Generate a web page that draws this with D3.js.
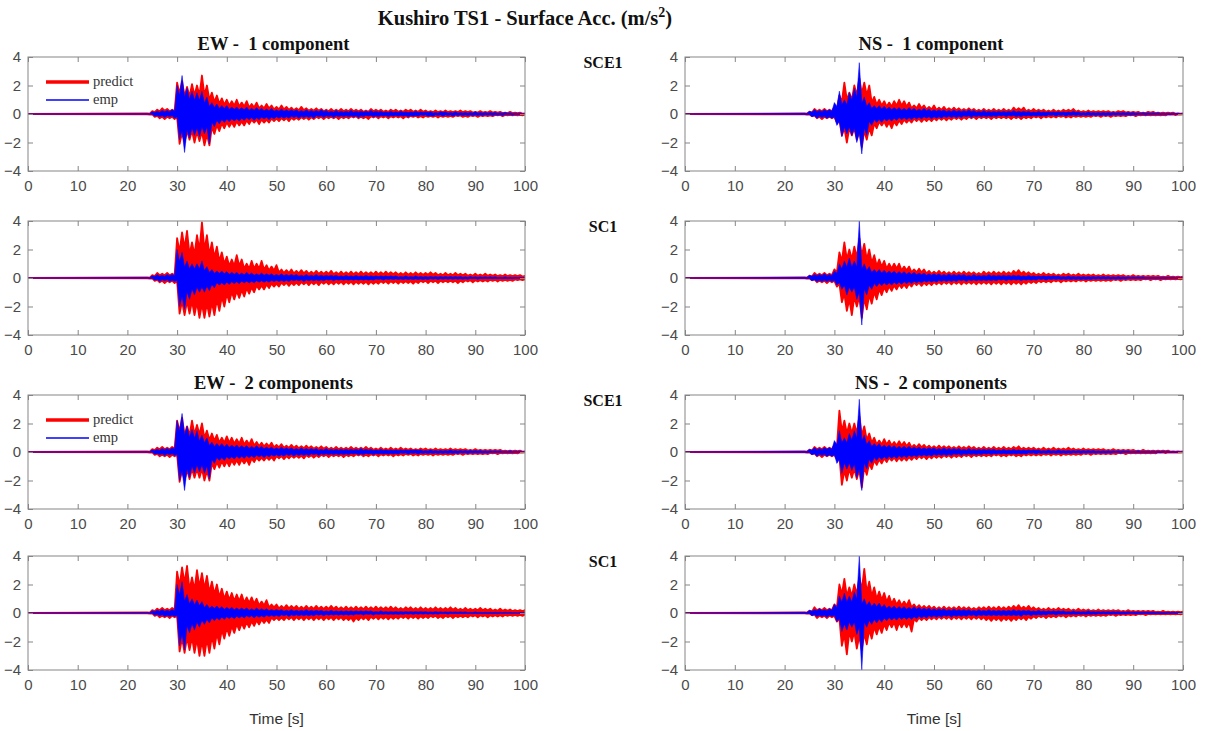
<!DOCTYPE html>
<html>
<head>
<meta charset="utf-8">
<script src="https://cdn.jsdelivr.net/npm/d3@7"></script>
<style>
  body { margin: 0; background: #fff; }
  text { white-space: pre; }
</style>
</head>
<body>
<svg id="chart" width="1207" height="731"></svg>
<script>
// ---------------- DATA ----------------
// Peak envelopes (max / min per second) of each acceleration trace, m/s^2,
// sampled at t = 24, 25, ..., 100 s. Before 24 s the traces sit at 0.
const sampleTimes = d3.range(24, 101);
const preEventTimes = [0, 24];

const xTickValues = [0, 10, 20, 30, 40, 50, 60, 70, 80, 90, 100];
const yTickValues = [-4, -2, 0, 2, 4];
const mainTitle = "Kushiro TS1 - Surface Acc. (m/s";
const mainTitleSup = "2";
const topTitles = ["EW -  1 component", "NS -  1 component"];
const midTitles = ["EW -  2 components", "NS -  2 components"];
const rowLabels = ["SCE1", "SC1", "SCE1", "SC1"];
const legendLabels = ["predict", "emp"];
const xLabel = "Time [s]";

// ---- EW, 1 component, SCE1 ----
const ew1_sce1_predMax = [0.05,0.2,0.3,0.4,0.35,0.3,2.2,2.3,1.9,2.1, 2.0,2.7,2.0,1.5,1.3,1.1,1.0,0.9,1.0,0.8, 0.9,0.7,0.8,0.6,0.7,0.6,0.5,0.6,0.5,0.45, 0.4,0.5,0.4,0.35,0.4,0.35,0.3,0.35,0.3,0.35, 0.3,0.35,0.3,0.3,0.25,0.35,0.3,0.3,0.25,0.3, 0.3,0.25,0.3,0.3,0.25,0.3,0.25,0.2,0.25,0.2, 0.25,0.2,0.2,0.25,0.2,0.2,0.15,0.2,0.15,0.2, 0.15,0.15,0.1,0.15,0.1,0.1,0.05];
const ew1_sce1_predMin = [-0.05,-0.2,-0.3,-0.35,-0.3,-0.35,-2.1,-2.0,-1.8,-2.0, -1.9,-2.2,-2.2,-1.4,-1.2,-1.0,-0.9,-0.9,-0.8,-0.8, -0.7,-0.6,-0.7,-0.6,-0.6,-0.5,-0.5,-0.45,-0.5,-0.4, -0.4,-0.35,-0.4,-0.35,-0.3,-0.35,-0.3,-0.3,-0.35,-0.3, -0.3,-0.25,-0.3,-0.3,-0.35,-0.25,-0.3,-0.25,-0.3,-0.25, -0.25,-0.3,-0.25,-0.2,-0.25,-0.25,-0.2,-0.2,-0.25,-0.2, -0.2,-0.2,-0.15,-0.2,-0.2,-0.15,-0.2,-0.15,-0.15,-0.15, -0.1,-0.15,-0.1,-0.1,-0.1,-0.1,-0.05];
const ew1_sce1_empMax = [0.02,0.15,0.2,0.25,0.25,0.3,2.0,2.7,1.8,1.6, 1.5,1.6,1.2,0.8,0.7,0.6,0.6,0.5,0.5,0.45, 0.5,0.4,0.45,0.4,0.35,0.4,0.3,0.35,0.3,0.3, 0.3,0.25,0.3,0.25,0.25,0.3,0.25,0.2,0.25,0.2, 0.2,0.25,0.2,0.2,0.2,0.25,0.2,0.2,0.15,0.2, 0.15,0.2,0.15,0.15,0.2,0.15,0.15,0.15,0.1,0.15, 0.15,0.1,0.15,0.1,0.1,0.1,0.15,0.1,0.1,0.1, 0.1,0.08,0.1,0.08,0.05,0.05,0.03];
const ew1_sce1_empMin = [-0.02,-0.15,-0.2,-0.25,-0.2,-0.3,-1.8,-2.7,-1.7,-1.5, -1.6,-1.4,-2.1,-0.9,-0.7,-0.6,-0.55,-0.5,-0.5,-0.45, -0.4,-0.45,-0.4,-0.35,-0.4,-0.35,-0.3,-0.3,-0.3,-0.25, -0.3,-0.25,-0.25,-0.3,-0.2,-0.25,-0.2,-0.25,-0.2,-0.2, -0.2,-0.2,-0.25,-0.2,-0.15,-0.2,-0.2,-0.15,-0.2,-0.15, -0.15,-0.15,-0.2,-0.15,-0.15,-0.1,-0.15,-0.15,-0.1,-0.15, -0.1,-0.15,-0.1,-0.1,-0.1,-0.1,-0.1,-0.1,-0.08,-0.1, -0.08,-0.1,-0.05,-0.08,-0.05,-0.05,-0.03];

// ---- NS, 1 component, SCE1 ----
const ns1_sce1_predMax = [0.05,0.15,0.35,0.3,0.35,0.3,0.5,1.3,2.2,1.5, 2.0,2.5,2.2,2.0,1.2,1.0,0.9,0.8,0.9,1.0, 0.9,0.8,0.6,0.7,0.6,0.5,0.6,0.45,0.5,0.4, 0.45,0.4,0.35,0.4,0.35,0.3,0.35,0.3,0.35,0.3, 0.35,0.3,0.45,0.4,0.45,0.3,0.35,0.3,0.3,0.25, 0.3,0.25,0.3,0.3,0.35,0.25,0.2,0.25,0.2,0.2, 0.2,0.2,0.15,0.2,0.2,0.15,0.15,0.15,0.1,0.15, 0.15,0.1,0.1,0.1,0.1,0.05,0.05];
const ns1_sce1_predMin = [-0.05,-0.15,-0.3,-0.35,-0.3,-0.3,-0.6,-1.5,-2.0,-1.5, -1.8,-2.3,-1.8,-1.5,-1.0,-0.8,-0.9,-1.0,-0.8,-0.7, -0.6,-0.6,-0.5,-0.55,-0.5,-0.5,-0.45,-0.4,-0.45,-0.4, -0.35,-0.4,-0.35,-0.3,-0.35,-0.3,-0.3,-0.35,-0.3,-0.3, -0.3,-0.35,-0.3,-0.35,-0.3,-0.3,-0.25,-0.3,-0.25,-0.25, -0.25,-0.2,-0.25,-0.25,-0.2,-0.2,-0.2,-0.2,-0.15,-0.2, -0.15,-0.2,-0.15,-0.15,-0.15,-0.1,-0.15,-0.1,-0.1,-0.1, -0.1,-0.1,-0.1,-0.05,-0.08,-0.05,-0.05];
const ns1_sce1_empMax = [0.05,0.2,0.3,0.25,0.3,0.3,0.8,1.6,1.0,1.5, 1.8,3.6,1.2,0.8,0.6,0.6,0.55,0.5,0.45,0.45, 0.4,0.45,0.4,0.35,0.4,0.35,0.3,0.3,0.3,0.25, 0.3,0.25,0.25,0.3,0.25,0.2,0.25,0.2,0.2,0.2, 0.2,0.2,0.25,0.2,0.2,0.2,0.15,0.2,0.15,0.15, 0.15,0.15,0.15,0.15,0.2,0.15,0.1,0.15,0.1,0.1, 0.1,0.1,0.1,0.1,0.1,0.1,0.1,0.08,0.08,0.08, 0.08,0.08,0.05,0.05,0.05,0.05,0.03];
const ns1_sce1_empMin = [-0.05,-0.2,-0.3,-0.25,-0.3,-0.3,-0.8,-1.6,-1.4,-1.5, -2.0,-2.8,-1.5,-0.8,-0.6,-0.6,-0.5,-0.5,-0.45,-0.4, -0.4,-0.4,-0.35,-0.35,-0.3,-0.35,-0.3,-0.3,-0.25,-0.25, -0.25,-0.25,-0.2,-0.25,-0.2,-0.2,-0.2,-0.2,-0.2,-0.15, -0.2,-0.15,-0.2,-0.2,-0.15,-0.15,-0.15,-0.15,-0.15,-0.1, -0.15,-0.1,-0.15,-0.1,-0.1,-0.1,-0.1,-0.1,-0.1,-0.1, -0.1,-0.1,-0.08,-0.08,-0.08,-0.08,-0.08,-0.05,-0.08,-0.05, -0.05,-0.05,-0.05,-0.05,-0.03,-0.03,-0.03];

// ---- EW, 1 component, SC1 ----
const ew1_sc1_predMax = [0.05,0.2,0.35,0.3,0.35,0.3,2.8,3.2,3.3,2.5, 3.0,3.9,3.0,2.5,2.2,1.8,1.5,1.3,1.6,1.3, 1.0,1.2,1.0,1.2,0.9,0.8,0.9,0.6,0.55,0.6, 0.5,0.55,0.5,0.45,0.5,0.45,0.45,0.5,0.4,0.45, 0.4,0.45,0.4,0.45,0.4,0.4,0.45,0.4,0.45,0.4, 0.4,0.35,0.4,0.35,0.4,0.35,0.35,0.4,0.35,0.3, 0.35,0.3,0.35,0.3,0.3,0.25,0.3,0.25,0.3,0.25, 0.25,0.2,0.25,0.2,0.2,0.2,0.15];
const ew1_sc1_predMin = [-0.05,-0.2,-0.3,-0.35,-0.3,-0.35,-2.5,-2.6,-2.5,-2.6, -2.8,-2.8,-2.7,-2.6,-2.3,-2.0,-1.7,-1.5,-1.4,-1.3, -1.1,-1.0,-0.8,-0.8,-0.7,-0.6,-0.6,-0.5,-0.55,-0.5, -0.5,-0.45,-0.5,-0.45,-0.5,-0.4,-0.45,-0.45,-0.4,-0.45, -0.4,-0.45,-0.4,-0.4,-0.45,-0.4,-0.4,-0.35,-0.4,-0.35, -0.4,-0.35,-0.35,-0.4,-0.35,-0.3,-0.35,-0.3,-0.35,-0.3, -0.3,-0.3,-0.35,-0.3,-0.25,-0.3,-0.25,-0.25,-0.25,-0.2, -0.25,-0.2,-0.2,-0.2,-0.15,-0.15,-0.15];
const ew1_sc1_empMax = [0.03,0.15,0.25,0.2,0.25,0.25,2.0,1.8,1.2,1.0, 1.0,1.2,0.8,0.6,0.5,0.5,0.45,0.4,0.4,0.35, 0.4,0.35,0.3,0.35,0.3,0.3,0.25,0.3,0.25,0.25, 0.25,0.2,0.25,0.2,0.25,0.2,0.2,0.2,0.2,0.15, 0.2,0.15,0.2,0.15,0.2,0.15,0.15,0.15,0.15,0.15, 0.15,0.1,0.15,0.1,0.15,0.1,0.1,0.1,0.1,0.1, 0.1,0.1,0.1,0.1,0.08,0.1,0.08,0.08,0.08,0.08, 0.08,0.05,0.08,0.05,0.05,0.05,0.03];
const ew1_sc1_empMin = [-0.03,-0.15,-0.25,-0.2,-0.25,-0.25,-2.0,-2.2,-1.5,-1.2, -1.0,-1.0,-0.9,-0.7,-0.5,-0.5,-0.45,-0.4,-0.4,-0.35, -0.35,-0.35,-0.3,-0.3,-0.3,-0.25,-0.25,-0.25,-0.25,-0.2, -0.2,-0.25,-0.2,-0.2,-0.2,-0.2,-0.15,-0.2,-0.15,-0.15, -0.15,-0.15,-0.15,-0.15,-0.15,-0.15,-0.1,-0.15,-0.1,-0.1, -0.1,-0.1,-0.1,-0.1,-0.1,-0.1,-0.1,-0.08,-0.1,-0.08, -0.08,-0.08,-0.08,-0.08,-0.08,-0.05,-0.08,-0.05,-0.05,-0.05, -0.05,-0.05,-0.05,-0.05,-0.03,-0.03,-0.03];

// ---- NS, 1 component, SC1 ----
const ns1_sc1_predMax = [0.05,0.15,0.35,0.3,0.35,0.3,0.6,1.8,2.5,2.0, 2.2,2.8,2.4,2.0,1.6,1.3,1.2,1.0,1.0,1.0, 0.8,0.8,0.6,0.65,0.6,0.5,0.45,0.5,0.45,0.4, 0.45,0.4,0.45,0.4,0.4,0.35,0.45,0.4,0.45,0.4, 0.45,0.4,0.5,0.55,0.45,0.4,0.35,0.3,0.35,0.3, 0.3,0.25,0.3,0.3,0.25,0.3,0.25,0.25,0.25,0.2, 0.25,0.2,0.2,0.2,0.2,0.15,0.2,0.15,0.15,0.15, 0.15,0.15,0.1,0.15,0.1,0.1,0.1];
const ns1_sc1_predMin = [-0.05,-0.15,-0.3,-0.3,-0.35,-0.3,-0.6,-1.7,-2.3,-2.6, -2.0,-2.8,-2.2,-1.8,-1.5,-1.2,-1.0,-0.9,-0.8,-0.7, -0.7,-0.6,-0.5,-0.55,-0.5,-0.5,-0.45,-0.45,-0.4,-0.45, -0.4,-0.45,-0.4,-0.4,-0.45,-0.4,-0.4,-0.45,-0.4,-0.45, -0.4,-0.45,-0.4,-0.45,-0.4,-0.35,-0.35,-0.3,-0.3,-0.3, -0.25,-0.3,-0.25,-0.25,-0.25,-0.2,-0.25,-0.2,-0.2,-0.2, -0.2,-0.2,-0.15,-0.2,-0.15,-0.15,-0.15,-0.15,-0.1,-0.15, -0.1,-0.15,-0.1,-0.1,-0.1,-0.1,-0.1];
const ns1_sc1_empMax = [0.05,0.2,0.25,0.25,0.3,0.25,0.5,1.0,1.2,1.4, 1.2,4.0,1.0,0.8,0.6,0.6,0.55,0.5,0.5,0.45, 0.45,0.4,0.4,0.35,0.35,0.3,0.3,0.3,0.25,0.3, 0.25,0.25,0.25,0.2,0.25,0.2,0.2,0.25,0.2,0.2, 0.2,0.2,0.2,0.2,0.15,0.2,0.15,0.15,0.15,0.15, 0.15,0.15,0.1,0.15,0.1,0.1,0.1,0.1,0.1,0.1, 0.1,0.1,0.08,0.1,0.08,0.08,0.08,0.08,0.08,0.05, 0.05,0.05,0.05,0.05,0.05,0.03,0.03];
const ns1_sc1_empMin = [-0.05,-0.2,-0.25,-0.25,-0.25,-0.25,-0.5,-0.8,-1.2,-1.0, -1.5,-3.3,-1.2,-0.8,-0.6,-0.55,-0.5,-0.5,-0.45,-0.45, -0.4,-0.4,-0.35,-0.35,-0.3,-0.3,-0.3,-0.25,-0.25,-0.25, -0.25,-0.2,-0.25,-0.2,-0.2,-0.2,-0.2,-0.2,-0.2,-0.15, -0.2,-0.15,-0.15,-0.2,-0.15,-0.15,-0.15,-0.1,-0.15,-0.1, -0.1,-0.1,-0.1,-0.1,-0.1,-0.1,-0.1,-0.1,-0.08,-0.08, -0.08,-0.08,-0.08,-0.08,-0.08,-0.05,-0.05,-0.05,-0.05,-0.05, -0.05,-0.05,-0.05,-0.03,-0.03,-0.03,-0.03];

// ---- EW, 2 components, SCE1 ----
const ew2_sce1_predMax = [0.05,0.2,0.3,0.35,0.3,0.35,2.2,2.4,1.8,2.2, 1.9,2.0,1.5,1.3,1.2,1.0,1.1,1.0,0.9,1.0, 0.8,0.9,0.7,0.65,0.6,0.65,0.5,0.55,0.45,0.5, 0.45,0.4,0.45,0.4,0.35,0.4,0.35,0.3,0.35,0.3, 0.3,0.35,0.3,0.3,0.35,0.3,0.25,0.3,0.25,0.3, 0.25,0.3,0.25,0.25,0.2,0.25,0.25,0.2,0.25,0.2, 0.2,0.25,0.2,0.2,0.2,0.15,0.2,0.15,0.15,0.15, 0.15,0.15,0.1,0.1,0.1,0.1,0.05];
const ew2_sce1_predMin = [-0.05,-0.2,-0.3,-0.3,-0.35,-0.3,-2.1,-2.0,-1.9,-1.8, -1.8,-2.0,-2.0,-1.2,-1.1,-1.0,-1.0,-0.9,-0.9,-0.8, -0.9,-0.7,-0.6,-0.6,-0.55,-0.6,-0.45,-0.5,-0.45,-0.4, -0.4,-0.45,-0.35,-0.4,-0.35,-0.3,-0.35,-0.3,-0.3,-0.35, -0.3,-0.3,-0.25,-0.3,-0.3,-0.25,-0.3,-0.25,-0.25,-0.3, -0.25,-0.25,-0.2,-0.25,-0.25,-0.2,-0.2,-0.25,-0.2,-0.2, -0.2,-0.2,-0.15,-0.2,-0.15,-0.15,-0.15,-0.15,-0.15,-0.1, -0.15,-0.1,-0.1,-0.1,-0.1,-0.05,-0.05];
const ew2_sce1_empMax = [0.02,0.15,0.2,0.25,0.25,0.3,2.2,2.7,1.8,1.6, 1.5,1.2,1.0,0.7,0.6,0.6,0.55,0.5,0.5,0.45, 0.45,0.4,0.45,0.4,0.35,0.35,0.3,0.35,0.3,0.3, 0.25,0.3,0.25,0.25,0.25,0.2,0.25,0.2,0.2,0.2, 0.2,0.2,0.2,0.25,0.2,0.2,0.15,0.2,0.15,0.15, 0.15,0.15,0.15,0.15,0.15,0.15,0.1,0.15,0.1,0.1, 0.1,0.15,0.1,0.1,0.1,0.1,0.1,0.1,0.08,0.08, 0.08,0.08,0.05,0.08,0.05,0.05,0.03];
const ew2_sce1_empMin = [-0.02,-0.15,-0.2,-0.25,-0.2,-0.25,-2.0,-2.7,-1.8,-1.5, -1.4,-1.5,-1.9,-0.8,-0.6,-0.6,-0.5,-0.5,-0.45,-0.45, -0.4,-0.4,-0.35,-0.4,-0.35,-0.3,-0.3,-0.3,-0.25,-0.3, -0.25,-0.25,-0.25,-0.2,-0.25,-0.2,-0.2,-0.2,-0.2,-0.2, -0.2,-0.15,-0.2,-0.2,-0.15,-0.2,-0.15,-0.15,-0.15,-0.15, -0.15,-0.1,-0.15,-0.1,-0.15,-0.1,-0.1,-0.1,-0.1,-0.1, -0.1,-0.1,-0.1,-0.08,-0.1,-0.08,-0.08,-0.08,-0.08,-0.05, -0.05,-0.05,-0.05,-0.05,-0.03,-0.03,-0.03];

// ---- NS, 2 components, SCE1 ----
const ns2_sce1_predMax = [0.05,0.15,0.35,0.3,0.35,0.3,0.5,2.9,2.2,2.0, 2.0,2.5,1.8,1.3,1.0,0.8,0.9,0.8,0.7,0.75, 0.7,0.65,0.5,0.55,0.5,0.45,0.4,0.45,0.4,0.4, 0.35,0.4,0.35,0.4,0.35,0.3,0.35,0.3,0.35,0.3, 0.35,0.3,0.35,0.4,0.3,0.3,0.3,0.25,0.3,0.25, 0.3,0.25,0.25,0.3,0.25,0.2,0.25,0.2,0.2,0.2, 0.2,0.15,0.2,0.15,0.15,0.15,0.15,0.1,0.15,0.1, 0.1,0.1,0.1,0.1,0.05,0.05,0.05];
const ns2_sce1_predMin = [-0.05,-0.15,-0.3,-0.35,-0.3,-0.3,-0.5,-2.3,-2.0,-1.8, -1.9,-2.5,-1.6,-1.2,-0.9,-0.8,-0.7,-0.6,-0.65,-0.6, -0.6,-0.55,-0.5,-0.45,-0.5,-0.45,-0.4,-0.4,-0.35,-0.4, -0.35,-0.35,-0.3,-0.35,-0.3,-0.3,-0.3,-0.3,-0.25,-0.3, -0.3,-0.25,-0.3,-0.3,-0.25,-0.25,-0.25,-0.25,-0.2,-0.25, -0.2,-0.25,-0.2,-0.2,-0.2,-0.2,-0.15,-0.2,-0.15,-0.15, -0.15,-0.15,-0.15,-0.1,-0.15,-0.1,-0.1,-0.1,-0.1,-0.1, -0.1,-0.05,-0.08,-0.05,-0.05,-0.05,-0.05];
const ns2_sce1_empMax = [0.05,0.2,0.3,0.25,0.3,0.3,0.8,1.5,1.0,1.3, 1.5,3.7,1.2,0.8,0.6,0.6,0.5,0.5,0.45,0.4, 0.4,0.4,0.35,0.35,0.3,0.3,0.3,0.25,0.3,0.25, 0.25,0.25,0.2,0.25,0.2,0.2,0.2,0.2,0.2,0.15, 0.2,0.15,0.2,0.15,0.15,0.15,0.15,0.15,0.1,0.15, 0.1,0.15,0.1,0.1,0.1,0.1,0.1,0.1,0.1,0.08, 0.08,0.08,0.08,0.08,0.08,0.08,0.05,0.08,0.05,0.05, 0.05,0.05,0.05,0.05,0.03,0.03,0.03];
const ns2_sce1_empMin = [-0.05,-0.2,-0.3,-0.25,-0.3,-0.3,-0.8,-1.5,-1.2,-1.3, -1.8,-2.7,-1.2,-0.8,-0.6,-0.55,-0.5,-0.45,-0.45,-0.4, -0.4,-0.35,-0.35,-0.3,-0.3,-0.3,-0.25,-0.25,-0.25,-0.25, -0.2,-0.25,-0.2,-0.2,-0.2,-0.2,-0.15,-0.2,-0.15,-0.15, -0.15,-0.15,-0.15,-0.15,-0.15,-0.1,-0.15,-0.1,-0.1,-0.1, -0.1,-0.1,-0.1,-0.1,-0.08,-0.1,-0.08,-0.08,-0.08,-0.08, -0.08,-0.08,-0.05,-0.08,-0.05,-0.05,-0.05,-0.05,-0.05,-0.05, -0.05,-0.05,-0.03,-0.03,-0.03,-0.03,-0.03];

// ---- EW, 2 components, SC1 ----
const ew2_sc1_predMax = [0.05,0.2,0.3,0.35,0.3,0.35,2.9,3.2,3.3,2.5, 3.0,2.8,2.6,2.2,2.0,1.7,1.5,1.4,1.3,1.3, 1.1,1.1,1.0,0.8,0.9,0.6,0.6,0.5,0.55,0.5, 0.5,0.45,0.5,0.45,0.5,0.45,0.45,0.5,0.45,0.4, 0.45,0.4,0.45,0.4,0.45,0.4,0.45,0.4,0.4,0.45, 0.4,0.35,0.4,0.4,0.35,0.4,0.35,0.35,0.4,0.35, 0.35,0.4,0.35,0.3,0.35,0.3,0.3,0.35,0.3,0.3, 0.25,0.3,0.25,0.25,0.2,0.2,0.2];
const ew2_sc1_predMin = [-0.05,-0.2,-0.3,-0.3,-0.35,-0.3,-2.7,-2.8,-2.6,-2.8, -3.0,-3.0,-2.8,-2.5,-2.2,-1.8,-1.6,-1.4,-1.2,-1.1, -1.0,-0.9,-0.8,-0.7,-0.7,-0.5,-0.5,-0.5,-0.45,-0.5, -0.45,-0.5,-0.45,-0.5,-0.45,-0.5,-0.45,-0.5,-0.45,-0.5, -0.5,-0.6,-0.5,-0.45,-0.5,-0.4,-0.45,-0.4,-0.45,-0.4, -0.4,-0.35,-0.4,-0.35,-0.4,-0.35,-0.35,-0.3,-0.35,-0.35, -0.3,-0.35,-0.3,-0.3,-0.3,-0.25,-0.3,-0.25,-0.3,-0.25, -0.25,-0.25,-0.2,-0.2,-0.2,-0.2,-0.15];
const ew2_sc1_empMax = [0.03,0.15,0.2,0.25,0.2,0.25,2.0,2.2,1.3,1.0, 0.9,0.8,0.6,0.5,0.5,0.45,0.4,0.4,0.35,0.35, 0.35,0.3,0.35,0.3,0.3,0.25,0.25,0.25,0.2,0.25, 0.2,0.2,0.25,0.2,0.2,0.2,0.15,0.2,0.15,0.15, 0.15,0.15,0.15,0.15,0.15,0.15,0.1,0.15,0.1,0.1, 0.1,0.1,0.1,0.1,0.1,0.1,0.1,0.08,0.1,0.08, 0.08,0.08,0.08,0.08,0.08,0.05,0.08,0.05,0.05,0.05, 0.05,0.05,0.05,0.05,0.03,0.03,0.03];
const ew2_sc1_empMin = [-0.03,-0.15,-0.2,-0.25,-0.25,-0.25,-2.3,-2.6,-1.4,-1.2, -1.0,-0.8,-0.7,-0.55,-0.5,-0.45,-0.4,-0.4,-0.35,-0.35, -0.3,-0.35,-0.3,-0.3,-0.25,-0.25,-0.25,-0.2,-0.25,-0.2, -0.2,-0.2,-0.2,-0.2,-0.15,-0.2,-0.15,-0.15,-0.15,-0.15, -0.15,-0.15,-0.1,-0.15,-0.1,-0.15,-0.1,-0.1,-0.1,-0.1, -0.1,-0.1,-0.08,-0.1,-0.08,-0.08,-0.08,-0.08,-0.08,-0.05, -0.08,-0.05,-0.05,-0.05,-0.05,-0.05,-0.05,-0.05,-0.05,-0.05, -0.05,-0.03,-0.03,-0.03,-0.03,-0.03,-0.03];

// ---- NS, 2 components, SC1 ----
const ns2_sc1_predMax = [0.05,0.15,0.4,0.3,0.35,0.3,0.6,2.0,2.4,1.8, 2.0,2.5,3.1,2.2,1.8,1.5,1.4,1.2,1.0,0.9, 0.8,0.9,0.6,0.55,0.5,0.5,0.45,0.4,0.45,0.4, 0.4,0.45,0.4,0.4,0.35,0.4,0.4,0.45,0.4,0.45, 0.4,0.45,0.5,0.55,0.45,0.5,0.4,0.35,0.3,0.35, 0.3,0.35,0.3,0.3,0.25,0.3,0.25,0.25,0.2,0.25, 0.2,0.2,0.2,0.2,0.15,0.2,0.15,0.15,0.15,0.15, 0.15,0.1,0.15,0.1,0.1,0.1,0.1];
const ns2_sc1_predMin = [-0.05,-0.15,-0.35,-0.3,-0.35,-0.3,-0.6,-2.3,-2.9,-2.0, -2.5,-2.6,-2.2,-1.8,-1.5,-1.4,-1.2,-1.0,-1.2,-1.0, -1.0,-1.3,-0.6,-0.5,-0.5,-0.45,-0.45,-0.4,-0.4,-0.45, -0.4,-0.45,-0.4,-0.45,-0.4,-0.45,-0.5,-0.55,-0.5,-0.55, -0.5,-0.55,-0.5,-0.45,-0.5,-0.4,-0.35,-0.3,-0.35,-0.3, -0.3,-0.25,-0.3,-0.25,-0.25,-0.2,-0.25,-0.2,-0.2,-0.2, -0.2,-0.15,-0.2,-0.15,-0.15,-0.15,-0.15,-0.1,-0.15,-0.1, -0.1,-0.1,-0.1,-0.1,-0.1,-0.1,-0.1];
const ns2_sc1_empMax = [0.05,0.2,0.25,0.3,0.25,0.3,0.6,1.2,1.4,1.2, 1.5,4.0,1.0,0.8,0.7,0.7,0.6,0.5,0.5,0.45, 0.45,0.4,0.45,0.4,0.35,0.35,0.3,0.3,0.3,0.25, 0.3,0.25,0.25,0.25,0.2,0.25,0.2,0.25,0.2,0.2, 0.2,0.2,0.25,0.2,0.2,0.2,0.15,0.2,0.15,0.15, 0.15,0.15,0.15,0.1,0.15,0.1,0.1,0.15,0.1,0.1, 0.1,0.1,0.1,0.1,0.08,0.1,0.08,0.08,0.08,0.08, 0.08,0.05,0.05,0.05,0.05,0.05,0.03];
const ns2_sc1_empMin = [-0.05,-0.2,-0.25,-0.25,-0.3,-0.25,-0.6,-1.3,-1.2,-1.0, -1.5,-4.0,-1.0,-0.8,-0.7,-0.65,-0.55,-0.5,-0.5,-0.45, -0.45,-0.45,-0.4,-0.35,-0.35,-0.3,-0.3,-0.3,-0.25,-0.3, -0.25,-0.25,-0.25,-0.2,-0.25,-0.2,-0.2,-0.2,-0.2,-0.2, -0.2,-0.2,-0.2,-0.25,-0.15,-0.2,-0.15,-0.15,-0.15,-0.1, -0.15,-0.1,-0.1,-0.1,-0.1,-0.1,-0.1,-0.1,-0.1,-0.08, -0.08,-0.08,-0.08,-0.08,-0.08,-0.05,-0.08,-0.05,-0.05,-0.05, -0.05,-0.05,-0.05,-0.03,-0.03,-0.03,-0.03];

// ---------------- LAYOUT ----------------
const W = 1207, H = 731;
const colLeft = [28, 685];
const colWidth = [497, 498];
const rowTop = [57, 221, 395, 556];
const plotH = 114;
const RED = "#ff0000", BLUE = "#0000ff";
const SERIF = "'Liberation Serif', 'Times New Roman', serif";
const SANS = "'Liberation Sans', Arial, Helvetica, sans-serif";
const troughRatio = 0.65; // how far the drawn edge dips between two peaks

const panels = [
  { row: 0, col: 0, pMax: ew1_sce1_predMax, pMin: ew1_sce1_predMin, eMax: ew1_sce1_empMax, eMin: ew1_sce1_empMin, legend: true },
  { row: 0, col: 1, pMax: ns1_sce1_predMax, pMin: ns1_sce1_predMin, eMax: ns1_sce1_empMax, eMin: ns1_sce1_empMin },
  { row: 1, col: 0, pMax: ew1_sc1_predMax,  pMin: ew1_sc1_predMin,  eMax: ew1_sc1_empMax,  eMin: ew1_sc1_empMin },
  { row: 1, col: 1, pMax: ns1_sc1_predMax,  pMin: ns1_sc1_predMin,  eMax: ns1_sc1_empMax,  eMin: ns1_sc1_empMin },
  { row: 2, col: 0, pMax: ew2_sce1_predMax, pMin: ew2_sce1_predMin, eMax: ew2_sce1_empMax, eMin: ew2_sce1_empMin, legend: true },
  { row: 2, col: 1, pMax: ns2_sce1_predMax, pMin: ns2_sce1_predMin, eMax: ns2_sce1_empMax, eMin: ns2_sce1_empMin },
  { row: 3, col: 0, pMax: ew2_sc1_predMax,  pMin: ew2_sc1_predMin,  eMax: ew2_sc1_empMax,  eMin: ew2_sc1_empMin },
  { row: 3, col: 1, pMax: ns2_sc1_predMax,  pMin: ns2_sc1_predMin,  eMax: ns2_sc1_empMax,  eMin: ns2_sc1_empMin }
];

const svg = d3.select("#chart");
svg.append("rect").attr("width", W).attr("height", H).attr("fill", "#fff");

// Main title
const mt = svg.append("text")
  .attr("x", 525).attr("y", 25)
  .attr("text-anchor", "middle")
  .attr("font-family", SERIF).attr("font-weight", "bold").attr("font-size", 20.5)
  .attr("fill", "#111");
mt.append("tspan").text(mainTitle);
mt.append("tspan").attr("dy", -8).attr("font-size", 14).text(mainTitleSup);
mt.append("tspan").attr("dy", 8).text(")");

// Peaks (max at t, min half a second later) drawn as an oscillating band.
function toPoints(times, maxArr, minArr) {
  const pts = [{ t: preEventTimes[0], hi: 0, lo: 0 }];
  const n = times.length;
  times.forEach((t, i) => {
    const prevLo = i > 0 ? minArr[i - 1] : minArr[i];
    pts.push({ t, hi: maxArr[i], lo: troughRatio * Math.max(prevLo, minArr[i]) });
    if (i < n - 1) {
      pts.push({ t: t + 0.5, hi: troughRatio * Math.min(maxArr[i], maxArr[i + 1]), lo: minArr[i] });
    }
  });
  return pts;
}

panels.forEach((p, k) => {
  const x0 = colLeft[p.col], w = colWidth[p.col], y0 = rowTop[p.row];
  const x = d3.scaleLinear().domain([0, 100]).range([0, w]);
  const y = d3.scaleLinear().domain([-4, 4]).range([plotH, 0]);
  const g = svg.append("g").attr("transform", `translate(${x0},${y0})`);

  const clipId = "clip" + k;
  g.append("clipPath").attr("id", clipId)
    .append("rect").attr("x", 0).attr("y", 0).attr("width", w).attr("height", plotH);

  const area = d3.area().x(d => x(d.t)).y0(d => y(d.lo)).y1(d => y(d.hi));
  const plot = g.append("g").attr("clip-path", `url(#${clipId})`);

  const predPts = toPoints(sampleTimes, p.pMax, p.pMin);
  const empPts = toPoints(sampleTimes, p.eMax, p.eMin);

  plot.append("path").datum(predPts).attr("d", area)
    .attr("fill", RED).attr("stroke", RED).attr("stroke-width", 1.8).attr("stroke-linejoin", "round");
  plot.append("path").datum(empPts).attr("d", area)
    .attr("fill", BLUE).attr("stroke", BLUE).attr("stroke-opacity", 0.55)
    .attr("stroke-width", 1).attr("stroke-linejoin", "round");

  // Box
  g.append("rect").attr("x", 0).attr("y", 0).attr("width", w).attr("height", plotH)
    .attr("fill", "none").attr("stroke", "#858585").attr("stroke-width", 1);

  const styleAxis = sel => {
    sel.select(".domain").remove();
    sel.selectAll("line").attr("stroke", "#858585");
    sel.selectAll("text").attr("font-family", SANS).attr("font-size", 15).attr("fill", "#4a4a4a");
  };

  g.append("g").attr("transform", `translate(0,${plotH})`)
    .call(d3.axisBottom(x).tickValues(xTickValues).tickSizeInner(-5).tickSizeOuter(0).tickPadding(9).tickFormat(d3.format("d")))
    .call(styleAxis);
  g.append("g")
    .call(d3.axisTop(x).tickValues(xTickValues).tickSizeInner(-5).tickSizeOuter(0).tickFormat(""))
    .call(styleAxis);
  g.append("g")
    .call(d3.axisLeft(y).tickValues(yTickValues).tickSizeInner(-5).tickSizeOuter(0).tickPadding(7).tickFormat(d3.format("d")))
    .call(styleAxis);
  g.append("g").attr("transform", `translate(${w},0)`)
    .call(d3.axisRight(y).tickValues(yTickValues).tickSizeInner(-5).tickSizeOuter(0).tickFormat(""))
    .call(styleAxis);

  if (p.legend) {
    const lg = g.append("g");
    const items = [{ label: legendLabels[0], color: RED, sw: 3.5, dy: 25 }, { label: legendLabels[1], color: BLUE, sw: 1.5, dy: 43 }];
    items.forEach(it => {
      lg.append("line").attr("x1", 18).attr("x2", 61).attr("y1", it.dy).attr("y2", it.dy)
        .attr("stroke", it.color).attr("stroke-width", it.sw);
      lg.append("text").attr("x", 65).attr("y", it.dy + 4)
        .attr("font-family", SERIF).attr("font-size", 14.5).attr("fill", "#333").text(it.label);
    });
  }
});

// Column titles
[0, 1].forEach(c => {
  const cx = colLeft[c] + colWidth[c] / 2 - 3;
  svg.append("text").attr("x", cx).attr("y", 50).attr("text-anchor", "middle")
    .attr("font-family", SERIF).attr("font-weight", "bold").attr("font-size", 18.5).attr("fill", "#111")
    .text(topTitles[c]);
  svg.append("text").attr("x", cx).attr("y", 389).attr("text-anchor", "middle")
    .attr("font-family", SERIF).attr("font-weight", "bold").attr("font-size", 18.5).attr("fill", "#111")
    .text(midTitles[c]);
  svg.append("text").attr("x", cx + 3).attr("y", 724).attr("text-anchor", "middle")
    .attr("font-family", SANS).attr("font-size", 15.5).attr("fill", "#333")
    .text(xLabel);
});

// Row labels
rowLabels.forEach((lab, r) => {
  svg.append("text").attr("x", 603).attr("y", rowTop[r] + 11).attr("text-anchor", "middle")
    .attr("font-family", SERIF).attr("font-weight", "bold").attr("font-size", 16).attr("fill", "#111")
    .text(lab);
});
</script>
</body>
</html>
